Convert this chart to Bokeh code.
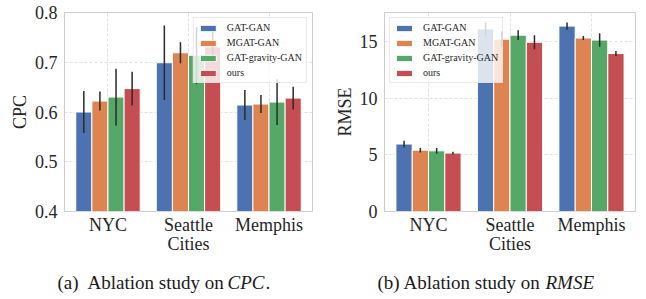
import numpy as np
from bokeh.plotting import figure
from bokeh.layouts import row, column
from bokeh.models import FixedTicker, Range1d, ColumnDataSource
from bokeh.core.properties import value
from bokeh.embed import file_html
from bokeh.resources import INLINE

cities = ["NYC", "Seattle", "Memphis"]
methods = ["GAT-GAN", "MGAT-GAN", "GAT-gravity-GAN", "ours"]
colors = ["#4C72B0", "#DD8452", "#55A868", "#C44E52"]

cpc_vals = {
    "GAT-GAN": [0.600, 0.699, 0.614],
    "MGAT-GAN": [0.622, 0.719, 0.616],
    "GAT-gravity-GAN": [0.630, 0.714, 0.620],
    "ours": [0.647, 0.731, 0.628],
}
cpc_err = {
    "GAT-GAN": [0.042, 0.075, 0.030],
    "MGAT-GAN": [0.019, 0.021, 0.018],
    "GAT-gravity-GAN": [0.057, 0.057, 0.046],
    "ours": [0.034, 0.030, 0.023],
}
rmse_vals = {
    "GAT-GAN": [5.95, 16.1, 16.35],
    "MGAT-GAN": [5.41, 15.2, 15.3],
    "GAT-gravity-GAN": [5.35, 15.55, 15.12],
    "ours": [5.15, 14.92, 13.93],
}
rmse_err = {
    "GAT-GAN": [0.30, 0.56, 0.32],
    "MGAT-GAN": [0.20, 0.70, 0.17],
    "GAT-gravity-GAN": [0.25, 0.43, 0.60],
    "ours": [0.12, 0.62, 0.22],
}
cpc_ticks = [0.4, 0.5, 0.6, 0.7, 0.8]
rmse_ticks = [0, 5, 10, 15]

FONT = "'Liberation Serif'"
BAR_W = 0.2
offsets = [-0.3, -0.1, 0.1, 0.3]
ROW_H = 268


def make_panel(vals, errs, yr, yticks, ylabel, borders, frame, legend_loc, ylab_standoff):
    bl, br, bt = borders
    fw, fh = frame
    p = figure(width=bl + fw + br, height=ROW_H, output_backend="svg",
               toolbar_location=None,
               x_range=Range1d(-0.54, 2.54), y_range=Range1d(*yr),
               min_border_left=bl, min_border_right=br, min_border_top=bt,
               min_border_bottom=ROW_H - bt - fh)
    p.title.visible = False
    base = np.arange(len(cities))
    for m, c, off in zip(methods, colors, offsets):
        v = np.array(vals[m])
        e = np.array(errs[m])
        src = ColumnDataSource(dict(x=base + off, top=v, lo=v - e, hi=v + e))
        p.vbar(x="x", top="top", bottom=yr[0], width=BAR_W, source=src,
               fill_color=c, line_color="white", line_width=1, legend_label=m)
        p.segment(x0="x", y0="lo", x1="x", y1="hi", source=src,
                  line_color="#2a2a2a", line_width=1.5)
    p.xaxis.ticker = FixedTicker(ticks=list(range(len(cities))))
    p.xaxis.major_label_overrides = {i: c for i, c in enumerate(cities)}
    p.yaxis.ticker = FixedTicker(ticks=yticks)
    if isinstance(yticks[0], float):
        p.yaxis.major_label_overrides = {t: f"{t:.1f}" for t in yticks}
    p.xaxis.axis_label = "Cities"
    p.yaxis.axis_label = ylabel
    for ax in (p.xaxis, p.yaxis):
        ax.axis_line_color = None
        ax.major_tick_line_color = None
        ax.minor_tick_line_color = None
        ax.major_tick_out = 0
        ax.major_tick_in = 0
        ax.major_label_text_font = FONT
        ax.major_label_text_font_size = "18px"
        ax.major_label_text_color = "#262626"
        ax.axis_label_text_font = FONT
        ax.axis_label_text_font_size = "18px"
        ax.axis_label_text_font_style = "normal"
        ax.axis_label_text_color = "#262626"
    p.xaxis.major_label_standoff = 3
    p.xaxis.axis_label_standoff = -4
    p.yaxis.major_label_standoff = 7
    p.yaxis.axis_label_standoff = ylab_standoff
    for g in (p.xgrid, p.ygrid):
        g.grid_line_color = "#d9d9d9"
        g.grid_line_dash = "3 2"
        g.grid_line_width = 0.8
    p.outline_line_color = "#cccccc"
    p.outline_line_width = 1
    p.background_fill_color = "white"
    lg = p.legend[0]
    lg.location = legend_loc
    lg.margin = 5
    lg.padding = 4
    lg.spacing = 4
    lg.label_height = 11
    lg.glyph_height = 8
    lg.glyph_width = 20
    lg.label_standoff = 9
    lg.label_text_font = FONT
    lg.label_text_font_size = "10px"
    lg.label_text_color = "#262626"
    lg.border_line_color = "#d6d6d6"
    lg.background_fill_alpha = 0.8
    return p


p1 = make_panel(cpc_vals, cpc_err, (0.4, 0.8), cpc_ticks, "CPC",
                (64, 11, 12), (248, 200), "top_right", 2)
p2 = make_panel(rmse_vals, rmse_err, (0, 17.55), rmse_ticks, "RMSE",
                (61, 11, 7), (251, 204), "top_left", 2)

CAP_H = 299 - ROW_H
cap = figure(width=646, height=CAP_H, output_backend="svg", toolbar_location=None,
             x_range=Range1d(0, 646), y_range=Range1d(0, CAP_H), min_border=0)
cap.title.visible = False
cap.axis.visible = False
cap.grid.visible = False
cap.outline_line_color = None
CAP_Y = 17
cap_src = ColumnDataSource(dict(
    x=[57, 87, 377, 403],
    y=[CAP_Y] * 4,
    t=["(a)", "Ablation study on", "(b)", "Ablation study on"],
))
cap.text(x="x", y="y", text="t", source=cap_src, text_font=value(FONT),
         text_font_size="19px", text_color="#1a1a1a", text_baseline="alphabetic")
it_src = ColumnDataSource(dict(x=[227, 545], y=[CAP_Y] * 2, t=["CPC", "RMSE"]))
cap.text(x="x", y="y", text="t", source=it_src, text_font=value(FONT),
         text_font_size="19px", text_font_style="italic", text_color="#1a1a1a",
         text_baseline="alphabetic")
dot_src = ColumnDataSource(dict(x=[265], y=[CAP_Y], t=["."]))
cap.text(x="x", y="y", text="t", source=dot_src, text_font=value(FONT),
         text_font_size="19px", text_color="#1a1a1a", text_baseline="alphabetic")

layout = column(row(p1, p2), cap)
open("out.html", "w").write(file_html(layout, INLINE))
